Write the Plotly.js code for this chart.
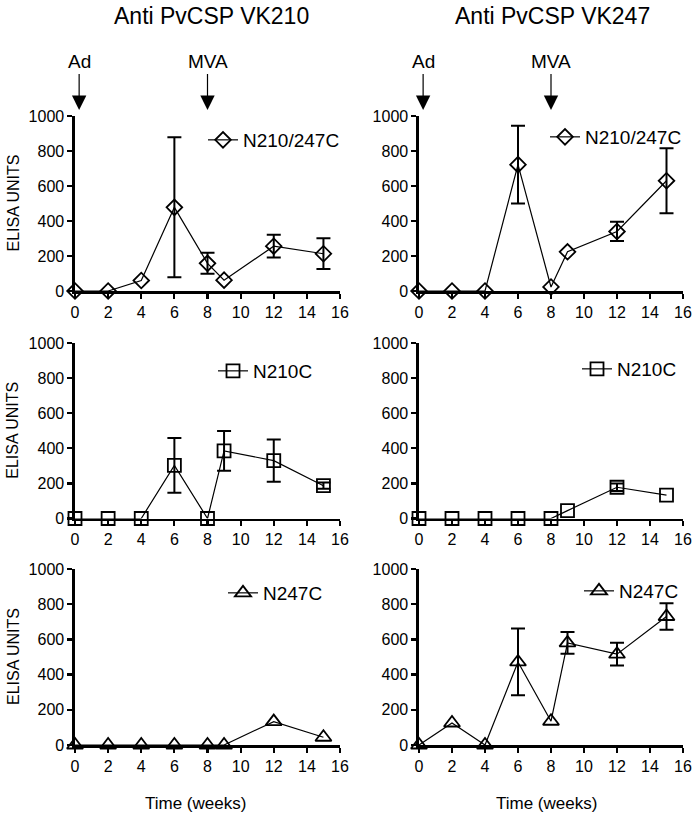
<!DOCTYPE html>
<html>
<head>
<meta charset="utf-8">
<script src="https://cdn.plot.ly/plotly-3.0.1.min.js"></script>
<style>html,body{margin:0;padding:0;background:#fff;}#chart{width:697px;height:816px;}</style>
</head>
<body>
<div id="chart"></div>
<script>
// ---- data ----
var weeks = [0, 2, 4, 6, 8, 9, 12, 15];
var xTicks = [0, 2, 4, 6, 8, 10, 12, 14, 16];
var yTicks = [0, 200, 400, 600, 800, 1000];
var columnTitles = ["Anti PvCSP VK210", "Anti PvCSP VK247"];
var seriesNames = ["N210/247C", "N210C", "N247C"];
var vaccinations = [{label: "Ad", week: 0.25}, {label: "MVA", week: 8}];

var vk210_N210_247C = [0, 0, 60, 478, 158, 62, 256, 213];
var vk210_N210_247C_err = [null, null, null, 400, 60, null, 65, 88];
var vk247_N210_247C = [0, 0, 0, 722, 23, 224, 340, 630];
var vk247_N210_247C_err = [null, null, null, 222, null, null, 55, 186];

var vk210_N210C = [0, 0, 0, 303, 0, 385, 330, 187];
var vk210_N210C_err = [null, null, null, 156, null, 113, 120, 18];
var vk247_N210C = [0, 0, 0, 0, 0, 45, 178, 133];
var vk247_N210C_err = [null, null, null, null, null, null, 22, null];

var vk210_N247C = [0, 0, 0, 0, 0, 0, 133, 44];
var vk210_N247C_err = [null, null, null, null, null, null, null, null];
var vk247_N247C = [0, 125, 0, 472, 135, 580, 516, 730];
var vk247_N247C_err = [null, null, null, 190, null, 62, 65, 75];

// ---- layout geometry ----
var FONT = "Liberation Sans, Arial, sans-serif";
var W = 697, H = 816;
var colX = [[75, 340], [419, 683]];
var rowY = [[116, 291], [343, 518.5], [569, 745]];
var symbols = ["diamond-open", "square-open", "triangle-up-open"];
var sizes = [12, 13, 14];
var legendPos = [[[223, 140], [565, 137]], [[233, 371], [597, 369]], [[243, 593], [599, 591]]];

var panels = [
  [[vk210_N210_247C, vk210_N210_247C_err], [vk247_N210_247C, vk247_N210_247C_err]],
  [[vk210_N210C, vk210_N210C_err], [vk247_N210C, vk247_N210C_err]],
  [[vk210_N247C, vk210_N247C_err], [vk247_N247C, vk247_N247C_err]]
];

var traces = [];
var layout = {
  width: W, height: H,
  margin: {l: 0, r: 0, t: 0, b: 0},
  paper_bgcolor: "#fff", plot_bgcolor: "#fff",
  font: {family: FONT, color: "#000", size: 16},
  annotations: [], showlegend: true
};

function fx(px) { return px / W; }
function fy(py) { return (H - py) / H; }

var idx = 0;
for (var r = 0; r < 3; r++) {
  for (var c = 0; c < 2; c++) {
    idx++;
    var sfx = idx === 1 ? "" : String(idx);
    var vals = panels[r][c][0];
    var errs = panels[r][c][1].map(function (e) { return e === null ? NaN : e; });
    var legName = "legend" + sfx;
    traces.push({
      x: weeks, y: vals, type: "scatter", mode: "lines+markers",
      name: seriesNames[r], legend: legName,
      xaxis: "x" + sfx, yaxis: "y" + sfx, cliponaxis: false,
      line: {color: "#000", width: 1.2},
      marker: {symbol: symbols[r], size: sizes[r], color: "#000", line: {width: 1.8, color: "#000"}},
      error_y: {type: "data", array: errs, symmetric: true, visible: true, color: "#000", thickness: 2, width: 7}
    });
    var axCommon = {
      showline: true, linecolor: "#000", linewidth: 2.6,
      ticks: "outside", ticklen: 5, tickwidth: 2.2, tickcolor: "#000",
      showgrid: false, zeroline: false, fixedrange: true,
      tickfont: {family: FONT, size: 16, color: "#000"}
    };
    layout["xaxis" + sfx] = Object.assign({}, axCommon, {
      domain: [fx(colX[c][0]), fx(colX[c][1])], range: [0, 16],
      tickmode: "array", tickvals: xTicks, ticktext: xTicks.map(String),
      anchor: "y" + sfx
    });
    layout["yaxis" + sfx] = Object.assign({}, axCommon, {
      domain: [fy(rowY[r][1]), fy(rowY[r][0])], range: [0, 1000],
      tickmode: "array", tickvals: yTicks, ticktext: yTicks.map(String),
      anchor: "x" + sfx
    });
    layout[legName] = {
      x: fx(legendPos[r][c][0] - 20), y: fy(legendPos[r][c][1]),
      xanchor: "left", yanchor: "middle",
      bgcolor: "rgba(0,0,0,0)", borderwidth: 0,
      font: {family: FONT, size: 19, color: "#000"}
    };
    if (c === 0) {
      layout.annotations.push({
        text: "ELISA UNITS", textangle: -90, xref: "paper", yref: "paper",
        x: fx(13), y: fy((rowY[r][0] + rowY[r][1]) / 2), xanchor: "center", yanchor: "middle",
        showarrow: false, font: {family: FONT, size: 16, color: "#000"}
      });
    }
  }
}

// column titles
var titleX = [212, 552];
for (var c2 = 0; c2 < 2; c2++) {
  layout.annotations.push({
    text: columnTitles[c2], xref: "paper", yref: "paper",
    x: fx(titleX[c2]), y: fy(16), xanchor: "center", yanchor: "middle",
    showarrow: false, font: {family: FONT, size: 23, color: "#000"}
  });
}
// x axis titles
var timeX = [195, 546];
for (var c3 = 0; c3 < 2; c3++) {
  layout.annotations.push({
    text: "Time (weeks)", xref: "paper", yref: "paper",
    x: fx(timeX[c3]), y: fy(803), xanchor: "center", yanchor: "middle",
    showarrow: false, font: {family: FONT, size: 17, color: "#000"}
  });
}
// vaccination arrows
["x", "x2"].forEach(function (xr) {
  vaccinations.forEach(function (v) {
    layout.annotations.push({
      text: v.label, xref: xr, yref: "paper", x: v.week, y: fy(110),
      showarrow: true, ax: 0, ay: -48, arrowhead: 2, arrowsize: 2.4, arrowwidth: 1.2,
      arrowcolor: "#000", font: {family: FONT, size: 19, color: "#000"}
    });
  });
});

Plotly.newPlot("chart", traces, layout, {displayModeBar: false, staticPlot: true});
</script>
</body>
</html>
